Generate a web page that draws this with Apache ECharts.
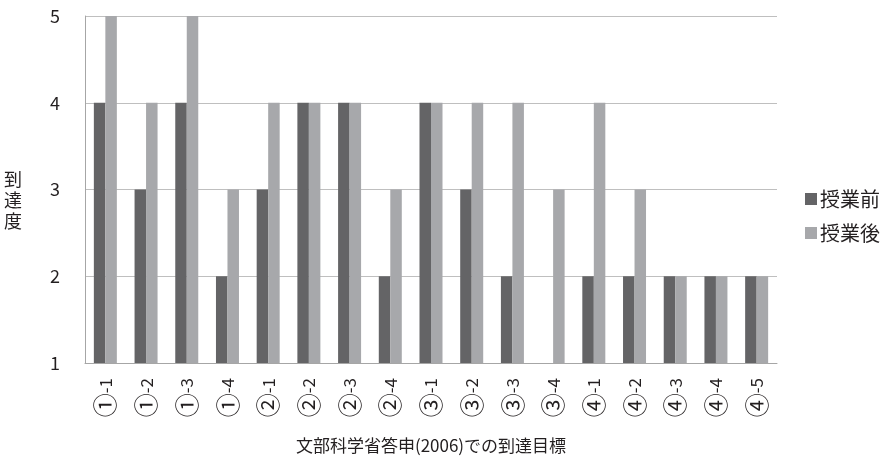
<!DOCTYPE html>
<html>
<head>
<meta charset="utf-8">
<script src="https://cdn.jsdelivr.net/npm/echarts@6/dist/echarts.min.js"></script>
<style>
  html, body { margin: 0; padding: 0; background: #fff; }
  #chart { width: 894px; height: 461px; }
</style>
</head>
<body>
<div id="chart"></div>
<script>
// 到達目標の項目
const categories = ['①-1','①-2','①-3','①-4','②-1','②-2','②-3','②-4','③-1','③-2','③-3','③-4','④-1','④-2','④-3','④-4','④-5'];
// 授業前・授業後の到達度 (1〜5)
const before = [4, 3, 4, 2, 3, 4, 4, 2, 4, 3, 2, 1, 2, 2, 2, 2, 2];
const after  = [5, 4, 5, 3, 4, 4, 4, 3, 4, 4, 4, 3, 4, 3, 2, 2, 2];
const yTicks = [1, 2, 3, 4, 5];

const FONT = '"Noto Sans CJK JP", "Noto Sans", sans-serif';
const TEXT = '#231f20';

const chart = echarts.init(document.getElementById('chart'), null, { renderer: 'canvas' });
chart.setOption({
  animation: false,
  textStyle: { fontFamily: FONT, color: TEXT },
  grid: { left: 85, right: 117, top: 16, bottom: 98, containLabel: false },
  legend: {
    orient: 'vertical',
    left: 800,
    top: 184,
    itemWidth: 12,
    itemHeight: 12,
    itemGap: 14,
    icon: 'rect',
    textStyle: { fontFamily: FONT, fontSize: 20, color: TEXT, padding: [0, 0, 0, -2] },
    data: ['授業前', '授業後']
  },
  xAxis: {
    type: 'category',
    data: categories,
    name: '文部科学省答申(2006)での到達目標',
    nameLocation: 'middle',
    nameGap: 74,
    nameTextStyle: { fontFamily: FONT, fontSize: 17, color: TEXT },
    axisLine: { show: true, lineStyle: { color: '#a6a6a6', width: 1 } },
    axisTick: { show: false },
    axisLabel: {
      rotate: 90,
      interval: 0,
      margin: 15,
      formatter: (v) => '{c|' + v.charAt(0) + '}{t|' + v.slice(1) + '}',
      rich: {
        c: { fontFamily: FONT, fontSize: 24, color: TEXT },
        t: { fontFamily: FONT, fontSize: 17, color: TEXT }
      }
    }
  },
  yAxis: {
    type: 'value',
    min: yTicks[0],
    max: yTicks[yTicks.length - 1],
    interval: 1,
    // a leading blank line drops the stacked name a little below the "3" tick
    name: ' \n到\n達\n度',
    nameLocation: 'middle',
    nameRotate: 0,
    nameGap: 63,
    nameTextStyle: { fontFamily: FONT, fontSize: 18, color: TEXT, lineHeight: 21 },
    axisLine: { show: true, lineStyle: { color: '#a6a6a6', width: 1 } },
    axisTick: { show: false },
    axisLabel: { fontFamily: FONT, fontSize: 18, color: TEXT, margin: 25 },
    splitLine: { show: true, lineStyle: { color: '#bfbfbf', width: 1 } }
  },
  series: [
    {
      name: '授業前',
      type: 'bar',
      data: before,
      barWidth: 11.5,
      barGap: '0%',
      itemStyle: { color: '#646466' }
    },
    {
      name: '授業後',
      type: 'bar',
      data: after,
      barWidth: 11.5,
      barGap: '0%',
      itemStyle: { color: '#a7a8ab' }
    }
  ]
});
</script>
</body>
</html>
